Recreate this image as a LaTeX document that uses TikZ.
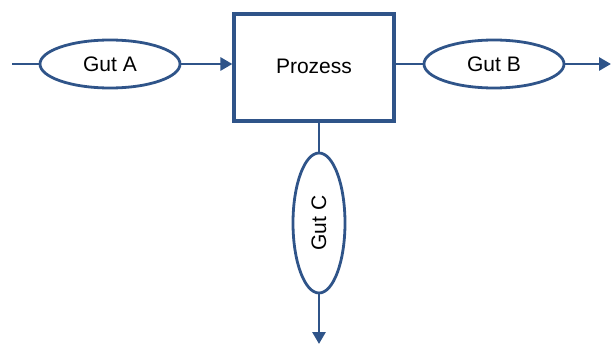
\documentclass[tikz,border=0pt]{standalone}
\usepackage{fontspec}
\setmainfont{Liberation Sans}
\usetikzlibrary{shapes.geometric,arrows.meta}
\definecolor{lc}{HTML}{2F5489}
\begin{document}
\begin{tikzpicture}[x=1pt,y=-1pt,
 gut/.style={ellipse, draw=lc, line width=2.8pt, fill=white, minimum width=140pt, minimum height=48pt, inner sep=0pt, font=\fontsize{21}{25}\selectfont},
 proc/.style={draw=lc, line width=3.2pt, minimum width=160pt, minimum height=107pt, inner sep=0pt},
 conn/.style={draw=lc, line width=2.8pt},
 arr/.style={conn, -{Triangle[length=12pt,width=13pt]}}]
\useasboundingbox (0,0) rectangle (611,345);
\node[proc] (p) at (314,67.5) {};
\node (pt) at (314,66) {\fontsize{21}{25}\selectfont Prozess};
\node[gut] (a) at (110,64) {Gut A};
\node[gut] (b) at (494,64) {Gut B};
\node[gut, minimum width=140pt, minimum height=52pt, rotate=90] (c) at (319,223) {Gut C};
\coordinate (s) at (12,64);
\coordinate (e) at (611,64);
\coordinate (d) at (319,344);
\draw[conn] (s) -- (a);
\draw[arr] (a) -- (a -| p.west);
\draw[conn] (p.east |- b) -- (b);
\draw[arr] (b) -- (e);
\draw[conn] (p.south -| c.center) -- (c);
\draw[arr] (c) -- (d);
\end{tikzpicture}
\end{document}
